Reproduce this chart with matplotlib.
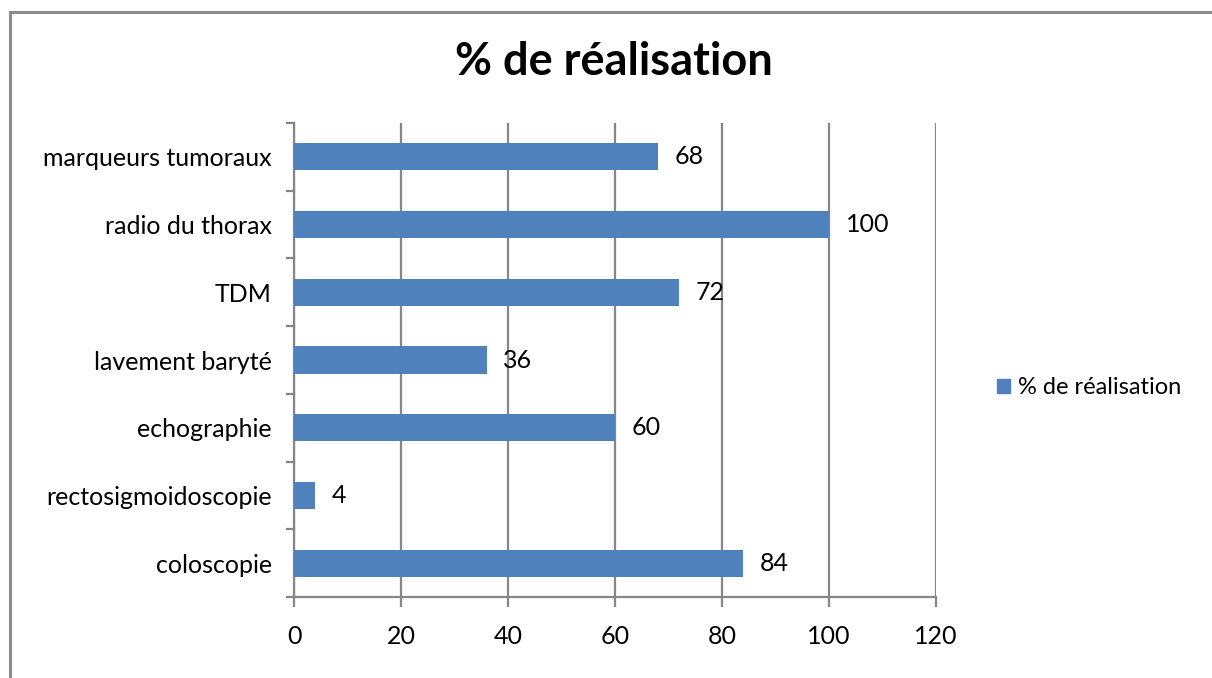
import matplotlib
matplotlib.use("Agg")
import matplotlib.pyplot as plt
from matplotlib.patches import Patch
from matplotlib.lines import Line2D

categories = ["coloscopie", "rectosigmoidoscopie", "echographie", "lavement baryté",
              "TDM", "radio du thorax", "marqueurs tumoraux"]
values = [84, 4, 60, 36, 72, 100, 68]
series_name = "% de réalisation"
x_ticks = [0, 20, 40, 60, 80, 100, 120]

bar_color = "#4F81BD"
grid_color = "#868686"

plt.rcParams["font.family"] = ["Lato", "DejaVu Sans"]

W, H = 1212, 678
fig = plt.figure(figsize=(W / 100, H / 100), dpi=100)

# outer chart frame (top and left edges visible)
frame_x, frame_y = 10 / W, 1 - 12 / H
fig.add_artist(Line2D([frame_x, 1.0], [frame_y, frame_y], transform=fig.transFigure,
                      color="#8c8c8c", lw=2.2))
fig.add_artist(Line2D([frame_x, frame_x], [frame_y, 0.0], transform=fig.transFigure,
                      color="#8c8c8c", lw=2.2))

left, right = 294, 936
top, bottom = 123, 597
ax = fig.add_axes([left / W, 1 - bottom / H, (right - left) / W, (bottom - top) / H])

ypos = list(range(len(categories)))
ax.barh(ypos, values, height=0.4, color=bar_color, zorder=3)
ax.set_xlim(0, 120)
ax.set_ylim(-0.5, len(categories) - 0.5)

for y, v in zip(ypos, values):
    ax.annotate(f"{v}", (v, y), xytext=(12, 0), textcoords="offset points",
                va="center", ha="left", fontsize=18, color="black")

ax.set_xticks(x_ticks)
ax.set_xticklabels([str(t) for t in x_ticks], fontsize=18)
ax.xaxis.grid(True, color=grid_color, lw=1.6, zorder=0)
ax.tick_params(axis="x", length=7, width=1.6, color=grid_color, pad=13)

# category labels centred on bars, ticks between categories
ax.set_yticks(ypos)
ax.set_yticklabels(categories, fontsize=18)
ax.tick_params(axis="y", length=0, pad=16)
for b in [i - 0.5 for i in range(len(categories) + 1)]:
    ax.plot([-0.011, 0], [b, b], transform=ax.get_yaxis_transform(), color=grid_color,
            lw=1.6, clip_on=False, zorder=4)

for s in ["top", "right"]:
    ax.spines[s].set_visible(False)
for s in ["left", "bottom"]:
    ax.spines[s].set_color(grid_color)
    ax.spines[s].set_linewidth(1.6)

fig.text(614 / W, 1 - 62 / H, series_name, ha="center", va="center",
         fontsize=32.5, fontweight="bold")

fig.legend(handles=[Patch(color=bar_color, label=series_name)],
           loc="center left", bbox_to_anchor=(976 / W, 1 - 388 / H), frameon=False,
           fontsize=17, handlelength=0.55, handleheight=0.55, handletextpad=0.35)

fig.savefig("out.png", dpi=100)
